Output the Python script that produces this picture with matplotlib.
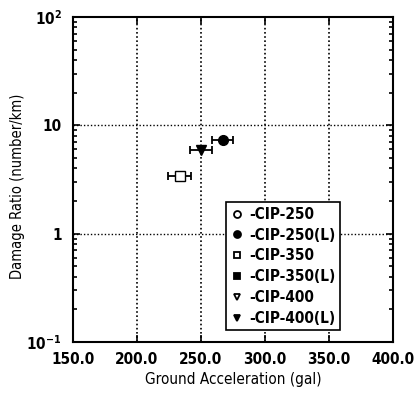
import matplotlib
matplotlib.use("Agg")
import matplotlib.pyplot as plt
from matplotlib.lines import Line2D
from matplotlib.ticker import FixedLocator, LogLocator, NullFormatter

plt.rcParams['font.family'] = ['DejaVu Sans']
plt.rcParams['font.stretch'] = 'condensed'
plt.rcParams['font.weight'] = 'bold'
plt.rcParams['mathtext.default'] = 'regular'

# series: label, marker, filled, x (gal), x error, y (number/km)
labels = ["-CIP-250", "-CIP-250(L)", "-CIP-350", "-CIP-350(L)", "-CIP-400", "-CIP-400(L)"]
markers = ["o", "o", "s", "s", "v", "v"]
filled = [False, True, False, True, False, True]
x_vals = [[], [267.0], [233.5], [], [], [250.0]]
x_errs = [[], [8.0], [9.0], [], [], [8.5]]
y_vals = [[], [7.3], [3.4], [], [], [5.9]]

x_ticks = [150, 200, 250, 300, 350, 400]
x_ticklabels = ["150.0", "200.0", "250.0", "300.0", "350.0", "400.0"]
y_ticks = [0.1, 1, 10, 100]
y_ticklabels = [r"$10^{-1}$", "1", "10", r"$10^{2}$"]

fig = plt.figure(figsize=(4.16, 4.0), dpi=100)
ax = fig.add_axes([0.175, 0.145, 0.77, 0.8125])

handles = []
for i in range(len(labels)):
    fc = 'black' if filled[i] else 'white'
    if x_vals[i]:
        ax.errorbar(x_vals[i], y_vals[i], xerr=x_errs[i], fmt=markers[i], color='black',
                    mfc=fc, mec='black', ms=7, capsize=3, elinewidth=1.3, capthick=1.3)
    handles.append(Line2D([], [], linestyle='none', marker=markers[i], color='black',
                          mfc=fc, mec='black', mew=1.3, ms=5, label=labels[i]))

ax.set_yscale('log')
ax.set_xlim(150, 400)
ax.set_ylim(0.1, 100)
ax.xaxis.set_major_locator(FixedLocator(x_ticks))
ax.set_xticklabels(x_ticklabels, fontsize=11)
ax.yaxis.set_major_locator(FixedLocator(y_ticks))
ax.set_yticklabels(y_ticklabels, fontsize=11)
ax.yaxis.set_minor_locator(LogLocator(base=10, subs=range(2, 10)))
ax.yaxis.set_minor_formatter(NullFormatter())

ax.tick_params(which='both', direction='in', top=True, right=True, width=1.2)
ax.tick_params(which='major', length=5)
ax.tick_params(axis='x', which='major', pad=7)
ax.tick_params(axis='y', which='major', pad=8)
ax.tick_params(which='minor', length=3)
for s in ax.spines.values():
    s.set_linewidth(1.5)

for x in x_ticks[1:-1]:
    ax.axvline(x, color='black', linestyle=(0, (1, 1.5)), linewidth=1.2, zorder=0)
for y in [1, 10]:
    ax.axhline(y, color='black', linestyle=(0, (1, 1.5)), linewidth=1.0, zorder=0)

ax.set_xlabel("Ground Acceleration (gal)", fontsize=11, labelpad=4)
ax.set_ylabel("Damage Ratio (number/km)", fontsize=10.5)
ax.yaxis.set_label_coords(-0.15, 0.48)

leg = ax.legend(handles=handles, loc='lower right', bbox_to_anchor=(0.858, 0.012), fontsize=11,
                frameon=True, fancybox=False, edgecolor='black', handlelength=0.8,
                handletextpad=0.4, labelspacing=0.38, borderpad=0.3, framealpha=1)
leg.get_frame().set_linewidth(1.2)

fig.savefig("out.png", dpi=100)
